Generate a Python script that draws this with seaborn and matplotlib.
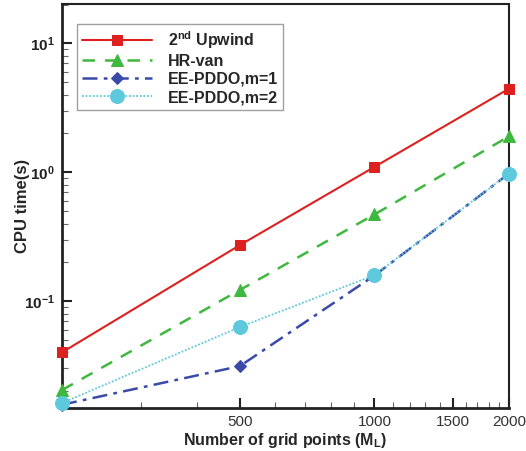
import matplotlib
matplotlib.use("Agg")
import matplotlib.pyplot as plt
import matplotlib.ticker as mticker
import seaborn as sns
import pandas as pd

grid_points = [200, 500, 1000, 2000]
upwind = [0.040, 0.272, 1.10, 4.45]
hr_van = [0.0204, 0.122, 0.47, 1.90]
pddo_m1 = [0.0157, 0.0313, 0.158, 0.977]
pddo_m2 = [0.0162, 0.0629, 0.159, 0.977]

labels = [r"2$^{\mathbf{nd}}$ Upwind", "HR-van", "EE-PDDO,m=1", "EE-PDDO,m=2"]
x_ticks = [500, 1000, 1500, 2000]

sns.set_style("ticks")
plt.rcParams["font.family"] = ["Liberation Sans", "DejaVu Sans"]
plt.rcParams["mathtext.fontset"] = "custom"
plt.rcParams["mathtext.rm"] = "Liberation Sans"
plt.rcParams["mathtext.bf"] = "Liberation Sans:bold"
plt.rcParams["mathtext.it"] = "Liberation Sans:bold"
plt.rcParams["mathtext.default"] = "bf"

fig = plt.figure(figsize=(5.26, 4.51), dpi=100)
ax = fig.add_axes([0.1179, 0.0953, 0.8498, 0.8958])

styles = [
    dict(color="#dd2020", ls="-", marker="s", ms=7, lw=1.5),
    dict(color="#3fb83f", ls=(0, (5, 4)), marker="^", ms=8, lw=1.8),
    dict(color="#3a4aa8", ls=(0, (6, 2.5, 1.5, 2.5)), marker="D", ms=6.5, lw=1.8),
    dict(color="#5ec8dc", ls=(0, (1, 1)), marker="o", ms=10, lw=1.3),
]
series = [upwind, hr_van, pddo_m1, pddo_m2]

for vals, lab, st in zip(series, labels, styles):
    df = pd.DataFrame({"n": grid_points, "t": vals})
    sns.lineplot(data=df, x="n", y="t", ax=ax, label=lab,
                 color=st["color"], linestyle=st["ls"], marker=st["marker"],
                 markersize=st["ms"], linewidth=st["lw"],
                 markeredgecolor=st["color"], clip_on=False, zorder=3)

ax.set_xscale("log")
ax.set_yscale("log")
ax.set_xlim(200, 2000)
ax.set_ylim(0.0148, 20.2)

ax.xaxis.set_major_locator(mticker.FixedLocator(x_ticks))
ax.xaxis.set_major_formatter(mticker.FixedFormatter([str(v) for v in x_ticks]))
ax.xaxis.set_minor_locator(mticker.FixedLocator(
    [300, 400, 600, 700, 800, 900, 1100, 1200, 1300, 1400, 1600, 1700, 1800, 1900]))
ax.xaxis.set_minor_formatter(mticker.NullFormatter())

ax.yaxis.set_major_locator(mticker.FixedLocator([0.1, 1, 10]))
ax.yaxis.set_major_formatter(mticker.FixedFormatter(
    [r"$\mathbf{10^{-1}}$", r"$\mathbf{10^{0}}$", r"$\mathbf{10^{1}}$"]))
ax.yaxis.set_minor_locator(mticker.LogLocator(base=10, subs=range(2, 10)))
ax.yaxis.set_minor_formatter(mticker.NullFormatter())

ax.tick_params(axis="both", which="major", direction="in", length=7, width=1.5,
               color="#222222", pad=5)
ax.tick_params(axis="both", which="minor", direction="in", length=4, width=0.8,
               color="#666666")
ax.tick_params(axis="x", which="major", labelsize=11, labelcolor="#333333")
ax.tick_params(axis="y", which="major", labelsize=11, labelcolor="#222222")

for sp in ax.spines.values():
    sp.set_linewidth(1.5)
    sp.set_color("#222222")
ax.spines["left"].set_linewidth(2)
ax.spines["bottom"].set_linewidth(2)

ax.set_xlabel(r"Number of grid points (M$_{L}$)", fontsize=11.5, fontweight="bold",
              labelpad=1.5)
ax.set_ylabel("CPU time(s)", fontsize=12, fontweight="bold", labelpad=-4)

leg = ax.legend(loc="upper left", bbox_to_anchor=(0.0336, 0.9505), borderaxespad=0,
                frameon=True, fancybox=False, edgecolor="#888888", handlelength=4.4,
                prop={"weight": "bold", "size": 11.5}, borderpad=0.3,
                labelspacing=0.2, handletextpad=1.0)
leg.get_frame().set_linewidth(1.0)

fig.savefig("out.png", dpi=100)
